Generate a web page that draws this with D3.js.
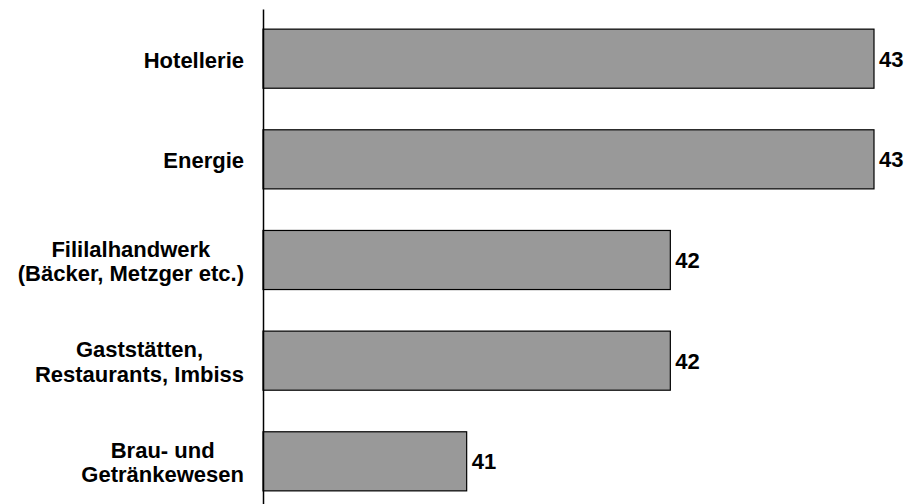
<!DOCTYPE html>
<html>
<head>
<meta charset="utf-8">
<script src="https://cdn.jsdelivr.net/npm/d3@7"></script>
<style>
  body { margin: 0; background: #fff; }
  svg { display: block; }
  text { font-family: "Liberation Sans", Arial, sans-serif; font-weight: bold; fill: #000; }
</style>
</head>
<body>
<svg width="906" height="504"></svg>
<script>
// categories (lines of each label) and values
const categories = [
  ['Hotellerie'],
  ['Energie'],
  ['Fililalhandwerk', '(Bäcker, Metzger etc.)'],
  ['Gaststätten,', 'Restaurants, Imbiss'],
  ['Brau- und', 'Getränkewesen']
];
const values = [43, 43, 42, 42, 41];

const svg = d3.select('svg');
const fontSize = 22;
const lineGap = 24.5;

const x = d3.scaleLinear()
  .domain([40, 43])
  .range([263, 874]);

const y = d3.scaleBand()
  .domain(d3.range(categories.length))
  .range([9, 511])
  .paddingInner(0.413)
  .paddingOuter(0.2);

// bars
svg.selectAll('rect.bar')
  .data(values)
  .enter()
  .append('rect')
  .attr('class', 'bar')
  .attr('x', x(40))
  .attr('y', (d, i) => y(i))
  .attr('width', d => x(d) - x(40))
  .attr('height', y.bandwidth())
  .attr('fill', '#999999')
  .attr('stroke', '#000')
  .attr('stroke-width', 1.2);

// axis line
const axis = svg.append('g')
  .attr('transform', `translate(${x(40)},0)`)
  .call(d3.axisLeft(y).tickSize(0).tickFormat(''));
axis.select('.domain').attr('stroke', '#000').attr('stroke-width', 1.5);

// value labels
svg.selectAll('text.value')
  .data(values)
  .enter()
  .append('text')
  .attr('class', 'value')
  .attr('x', d => x(d) + 5)
  .attr('y', (d, i) => y(i) + y.bandwidth() / 2)
  .attr('dy', '0.36em')
  .style('font-size', fontSize + 'px')
  .text(d => d);

// category labels: lines centred on each other, block right aligned
const labelRight = 244;
categories.forEach((lines, i) => {
  const g = svg.append('g');
  const cy = y(i) + y.bandwidth() / 2 + 1;
  const texts = lines.map((line, j) => g.append('text')
    .attr('y', cy + (j - (lines.length - 1) / 2) * lineGap)
    .attr('dy', '0.36em')
    .attr('text-anchor', 'middle')
    .style('font-size', fontSize + 'px')
    .text(line));
  const w = d3.max(texts, t => t.node().getComputedTextLength());
  texts.forEach(t => t.attr('x', labelRight - w / 2));
});
</script>
</body>
</html>
